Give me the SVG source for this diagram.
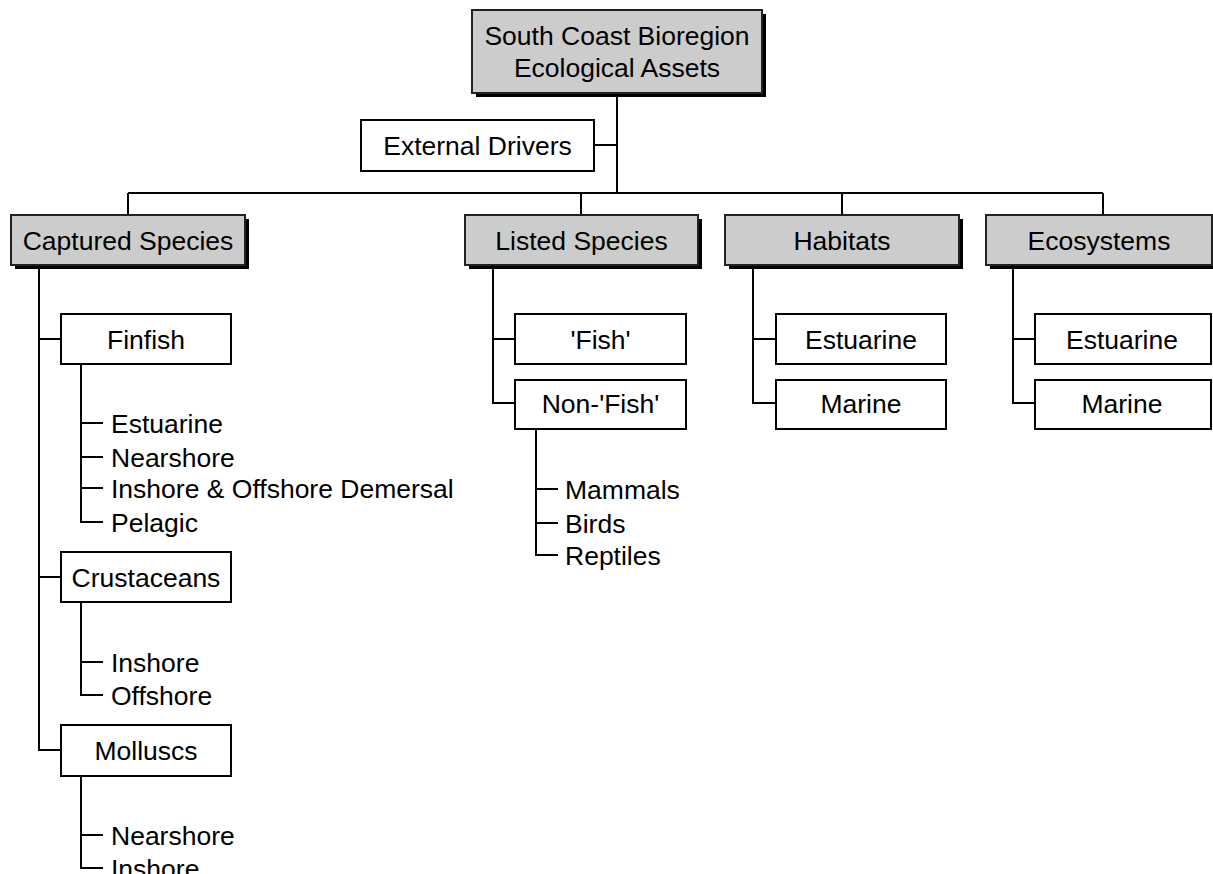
<svg xmlns="http://www.w3.org/2000/svg" width="1213" height="874" viewBox="0 0 1213 874">
<style>
text{font-family:"Liberation Sans",Arial,sans-serif;font-size:26.5px;fill:#000}
.c{text-anchor:middle}
.box{fill:#fff;stroke:#000;stroke-width:2}
.gbox{fill:#cccccc;stroke:#222;stroke-width:2}
.sh{fill:#000}
.ln{fill:none;stroke:#000;stroke-width:2}
</style>
<rect width="1213" height="874" fill="#fff"/>
<g id="connectors">
<path class="ln" d="M617,93V193M594,145H617M128,193H1103M128,193V215M581,193V215M842,193V215M1103,193V215"/>
<path class="ln" d="M39,265V750H61M39,339H61M39,577H61"/>
<path class="ln" d="M81,364V522H103M81,423H103M81,457H103M81,488H103"/>
<path class="ln" d="M81,602V695H103M81,662H103"/>
<path class="ln" d="M81,776V868H103M81,835H103"/>
<path class="ln" d="M493,265V403H515M493,339H515"/>
<path class="ln" d="M536,429V555H558M536,489H558M536,523H558"/>
<path class="ln" d="M753,265V403H776M753,339H776"/>
<path class="ln" d="M1013,265V403H1035M1013,339H1035"/>
</g>
<g id="root">
<rect class="sh" x="476" y="14" width="290" height="83"/>
<rect class="gbox" x="472" y="10" width="290" height="83"/>
<text class="c" x="617" y="44.5">South Coast Bioregion</text>
<text class="c" x="617" y="76.5">Ecological Assets</text>
</g>
<g id="external-drivers">
<rect class="box" x="361" y="120" width="233" height="51"/>
<text class="c" x="477.5" y="155">External Drivers</text>
</g>
<g id="captured-species">
<rect class="sh" x="15" y="219" width="234" height="50"/>
<rect class="gbox" x="11" y="215" width="234" height="50"/>
<text class="c" x="128" y="249.5">Captured Species</text>
</g>
<g id="listed-species">
<rect class="sh" x="469" y="219" width="233" height="50"/>
<rect class="gbox" x="465" y="215" width="233" height="50"/>
<text class="c" x="581.5" y="249.5">Listed Species</text>
</g>
<g id="habitats">
<rect class="sh" x="729" y="219" width="234" height="50"/>
<rect class="gbox" x="725" y="215" width="234" height="50"/>
<text class="c" x="842" y="249.5">Habitats</text>
</g>
<g id="ecosystems">
<rect class="sh" x="990" y="219" width="226" height="50"/>
<rect class="gbox" x="986" y="215" width="226" height="50"/>
<text class="c" x="1099" y="249.5">Ecosystems</text>
</g>
<g id="finfish">
<rect class="box" x="61" y="314" width="170" height="50"/>
<text class="c" x="146" y="348.5">Finfish</text>
</g>
<g id="finfish-items">
<text x="111" y="432.5">Estuarine</text>
<text x="111" y="466.5">Nearshore</text>
<text x="111" y="497.5">Inshore &amp; Offshore Demersal</text>
<text x="111" y="531.5">Pelagic</text>
</g>
<g id="crustaceans">
<rect class="box" x="61" y="552" width="170" height="50"/>
<text class="c" x="146" y="586.5">Crustaceans</text>
</g>
<g id="crustacean-items">
<text x="111" y="671.5">Inshore</text>
<text x="111" y="704.5">Offshore</text>
</g>
<g id="molluscs">
<rect class="box" x="61" y="725" width="170" height="51"/>
<text class="c" x="146" y="759.5">Molluscs</text>
</g>
<g id="mollusc-items">
<text x="111" y="844.5">Nearshore</text>
<text x="111" y="877.5">Inshore</text>
</g>
<g id="listed-fish">
<rect class="box" x="515" y="314" width="171" height="50"/>
<text class="c" x="600.5" y="348.5">'Fish'</text>
</g>
<g id="listed-nonfish">
<rect class="box" x="515" y="380" width="171" height="49"/>
<text class="c" x="600.5" y="413">Non-'Fish'</text>
</g>
<g id="nonfish-items">
<text x="565" y="498.5">Mammals</text>
<text x="565" y="532.5">Birds</text>
<text x="565" y="564.5">Reptiles</text>
</g>
<g id="habitats-estuarine">
<rect class="box" x="776" y="314" width="170" height="50"/>
<text class="c" x="861" y="348.5">Estuarine</text>
</g>
<g id="habitats-marine">
<rect class="box" x="776" y="380" width="170" height="49"/>
<text class="c" x="861" y="413">Marine</text>
</g>
<g id="ecosystems-estuarine">
<rect class="box" x="1035" y="314" width="176" height="50"/>
<text class="c" x="1122" y="348.5">Estuarine</text>
</g>
<g id="ecosystems-marine">
<rect class="box" x="1035" y="380" width="176" height="49"/>
<text class="c" x="1122" y="413">Marine</text>
</g>
</svg>
